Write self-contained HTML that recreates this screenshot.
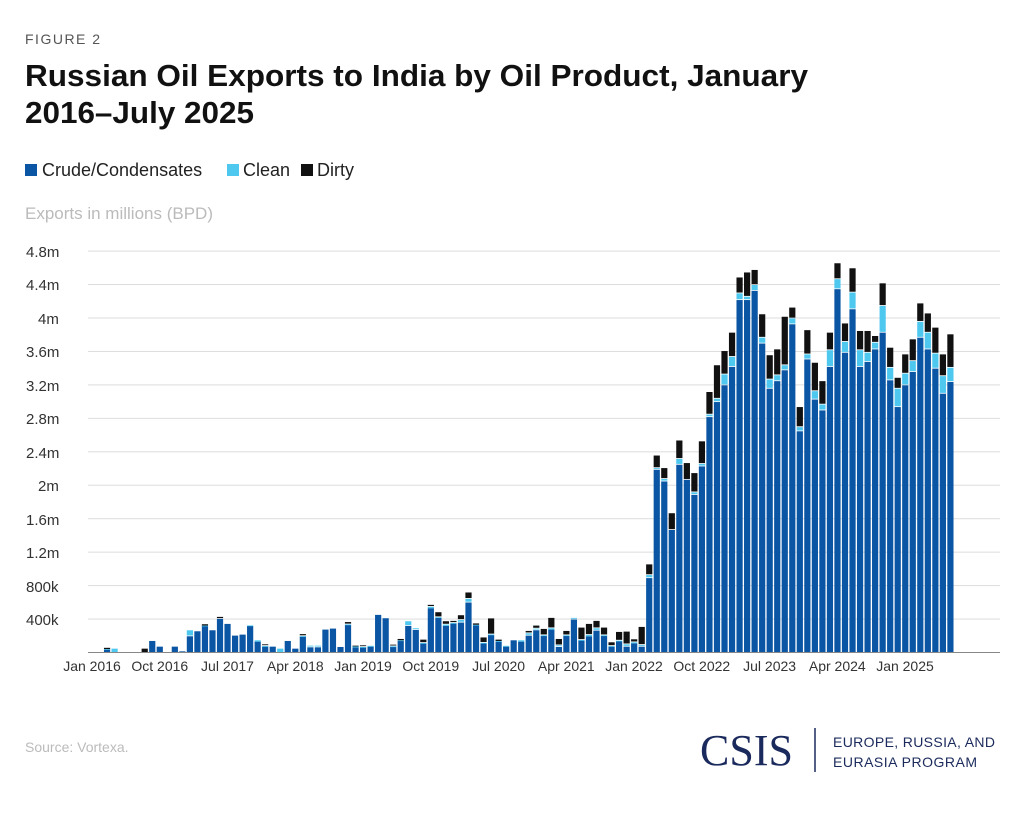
<!DOCTYPE html>
<html><head><meta charset="utf-8">
<style>
body{margin:0;background:#fff;width:1024px;height:815px;overflow:hidden;font-family:"Liberation Sans",sans-serif;}
</style></head>
<body>
<svg id="s" width="1024" height="815" xmlns="http://www.w3.org/2000/svg" font-family="Liberation Sans, sans-serif">
<text x="25" y="44" font-size="14" fill="#555" letter-spacing="1.5">FIGURE 2</text>
<text x="25" y="86" font-size="31" font-weight="bold" fill="#111" textLength="783" lengthAdjust="spacingAndGlyphs">Russian Oil Exports to India by Oil Product, January</text>
<text x="25" y="123" font-size="31" font-weight="bold" fill="#111" textLength="229" lengthAdjust="spacingAndGlyphs">2016–July 2025</text>
<rect x="25" y="164" width="12" height="12" fill="#0b56a4"/><text x="42" y="176" font-size="18" fill="#222">Crude/Condensates</text>
<rect x="227" y="164" width="12" height="12" fill="#4fc8f0"/><text x="243" y="176" font-size="18" fill="#222">Clean</text>
<rect x="301" y="164" width="12" height="12" fill="#111"/><text x="317" y="176" font-size="18" fill="#222">Dirty</text>
<text x="25" y="219" font-size="17" fill="#bbb">Exports in millions (BPD)</text>
<g id="grid"></g>
<g id="bars"></g>
<line x1="88" y1="652.5" x2="1000" y2="652.5" stroke="#888" stroke-width="1"/>
<g id="xt" font-size="14" fill="#333" text-anchor="middle">
<text x="92" y="671">Jan 2016</text><text x="159.8" y="671">Oct 2016</text><text x="227.5" y="671">Jul 2017</text><text x="295.3" y="671">Apr 2018</text><text x="363" y="671">Jan 2019</text><text x="430.8" y="671">Oct 2019</text><text x="498.6" y="671">Jul 2020</text><text x="566.3" y="671">Apr 2021</text><text x="634" y="671">Jan 2022</text><text x="701.8" y="671">Oct 2022</text><text x="769.6" y="671">Jul 2023</text><text x="837.3" y="671">Apr 2024</text><text x="905" y="671">Jan 2025</text>
</g>
<g font-size="15" fill="#333">
<text x="26" y="257">4.8m</text><text x="26" y="290">4.4m</text><text x="38" y="324">4m</text><text x="26" y="357">3.6m</text><text x="26" y="391">3.2m</text><text x="26" y="424">2.8m</text><text x="26" y="458">2.4m</text><text x="38" y="491">2m</text><text x="26" y="525">1.6m</text><text x="26" y="558">1.2m</text><text x="26" y="592">800k</text><text x="26" y="625">400k</text>
</g>
<text x="25" y="752" font-size="14" fill="#bbb">Source: Vortexa.</text>
<text x="700" y="765" font-size="44" font-family="Liberation Serif, serif" fill="#1b2a5c">CSIS</text>
<line x1="815" y1="728" x2="815" y2="772" stroke="#1b2a5c" stroke-width="1.5"/>
<text x="833" y="747" font-size="14" fill="#1b2a5c" textLength="162" lengthAdjust="spacing">EUROPE, RUSSIA, AND</text>
<text x="833" y="767" font-size="14" fill="#1b2a5c" textLength="144" lengthAdjust="spacing">EURASIA PROGRAM</text>
</svg>
<script>
var K=[[0,0,0],[0,0,0],[30,5,15],[0,40,0],[0,0,0],[0,0,0],[0,0,0],[0,0,40],[132,0,0],[64,0,0],[0,0,0],[64,0,0],[8,0,0],[188,72,0],[248,0,0],[312,4,16],[260,0,0],[396,0,24],[336,0,0],[196,0,0],[208,0,0],[312,6,0],[124,16,0],[64,8,20],[64,0,0],[0,40,0],[132,0,0],[40,0,0],[184,6,24],[56,20,0],[56,20,0],[268,0,0],[280,0,0],[60,0,0],[324,6,28],[56,16,4],[56,4,20],[64,10,0],[444,0,0],[404,0,0],[64,4,20],[136,4,16],[312,56,0],[264,20,0],[104,4,40],[524,16,24],[412,4,60],[312,16,40],[340,8,24],[352,32,56],[592,44,76],[320,6,16],[104,6,64],[204,6,192],[124,8,16],[64,10,0],[140,0,0],[124,16,0],[196,28,28],[260,20,36],[196,4,76],[268,16,124],[60,20,76],[196,4,52],[388,20,0],[140,4,148],[188,16,132],[256,28,88],[196,4,92],[64,8,44],[132,4,104],[64,28,152],[104,12,36],[64,20,216],[884,36,128]];
var M=[[2.18,.02,.15],[2.04,.03,.13],[1.46,0,.2],[2.24,.07,.22],[2.06,0,.2],[1.88,.03,.23],[2.22,.03,.27],[2.81,.03,.27],[2.99,.04,.4],[3.19,.13,.28],[3.41,.12,.29],[4.21,.08,.19],[4.21,.04,.29],[4.32,.07,.18],[3.69,.07,.28],[3.15,.11,.29],[3.24,.07,.31],[3.37,.06,.58],[3.92,.07,.13],[2.64,.05,.24],[3.50,.06,.29],[3.02,.1,.34],[2.89,.07,.28],[3.41,.2,.21],[4.34,.12,.19],[3.58,.13,.22],[4.10,.2,.29],[3.41,.2,.23],[3.47,.11,.26],[3.62,.08,.08],[3.82,.32,.27],[3.25,.15,.24],[2.93,.22,.13],[3.19,.14,.23],[3.35,.13,.26],[3.76,.19,.22],[3.62,.2,.23],[3.39,.18,.31],[3.09,.21,.26],[3.23,.17,.4]];
var D=K.map(function(a){return a.map(function(v){return v/1000;});}).concat(M);
var ns="http://www.w3.org/2000/svg",g=document.getElementById("bars"),gr=document.getElementById("grid");
function r(p,x,y,w,h,c){var e=document.createElementNS(ns,"rect");e.setAttribute("x",x);e.setAttribute("y",y);e.setAttribute("width",w);e.setAttribute("height",h);e.setAttribute("fill",c);p.appendChild(e);}
for(var k=1;k<=12;k++){var y=652.5-k*33.45;r(gr,88,y-0.5,912,1,"#ddd");}
var S=83.6,B=652,cols=["#0b56a4","#4fc8f0","#111"];
D.forEach(function(d,i){var cx=92+7.53*i,x=cx-3.1,acc=0;
 for(var j=0;j<3;j++){if(d[j]<=0)continue;var h=d[j]*S;acc+=d[j];
  var top=B-acc*S;var hh=h-(acc>d[j]?0.8:0);if(hh<0.8)hh=Math.max(h,0.8);r(g,x,top,6.2,hh,cols[j]);}
});
</script>
</body></html>
